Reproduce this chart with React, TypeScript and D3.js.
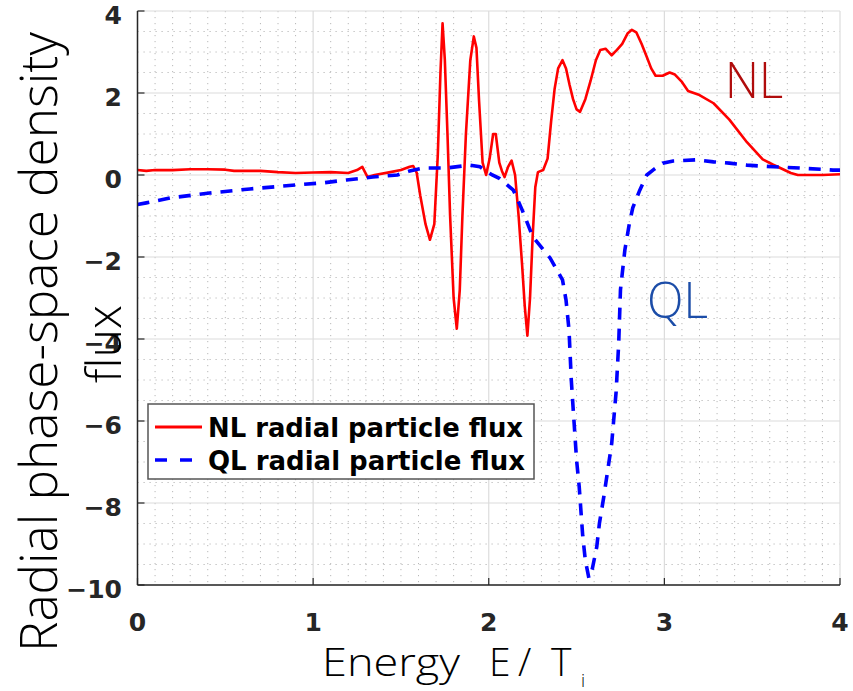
import React from "react";
import * as d3 from "d3";

const xTicks = [0, 1, 2, 3, 4];
const yTicks = [4, 2, 0, -2, -4, -6, -8, -10];

const nlX = [0, 0.05, 0.1, 0.2, 0.3, 0.4, 0.5, 0.55, 0.7, 0.8, 0.9, 1.0, 1.1, 1.2, 1.25, 1.28, 1.31, 1.35, 1.44, 1.5,
  1.55, 1.57, 1.59, 1.61, 1.64, 1.665, 1.69, 1.71, 1.725, 1.737, 1.75, 1.765, 1.78, 1.8, 1.818, 1.835, 1.85, 1.87, 1.895, 1.915,
  1.93, 1.945, 1.965, 1.985, 2.005, 2.025, 2.04, 2.06, 2.075, 2.09, 2.11, 2.13, 2.15, 2.17, 2.19, 2.205, 2.22, 2.235, 2.25, 2.265,
  2.28, 2.31, 2.335, 2.355, 2.375, 2.395, 2.42, 2.44, 2.46, 2.48, 2.5, 2.52, 2.55, 2.58, 2.61, 2.635, 2.665, 2.7, 2.73, 2.76,
  2.79, 2.815, 2.84, 2.87, 2.9, 2.925, 2.95, 2.99, 3.03, 3.06, 3.1, 3.135, 3.2, 3.28, 3.37, 3.47, 3.56, 3.62, 3.66, 3.72,
  3.76, 3.9, 4.0];
const nlY = [0.12, 0.1, 0.12, 0.12, 0.14, 0.14, 0.13, 0.1, 0.1, 0.07, 0.05, 0.06, 0.07, 0.05, 0.12, 0.2, -0.05, 0.0, 0.07, 0.12,
  0.2, 0.22, 0.05, -0.5, -1.2, -1.58, -1.2, 0.5, 2.5, 3.7, 2.8, 1.0, -1.0, -3.0, -3.75, -2.8, -1.0, 1.0, 2.8, 3.38,
  3.1, 1.8, 0.3, 0.0, 0.4, 1.0, 1.0, 0.3, 0.1, -0.05, 0.2, 0.35, 0.0, -1.0, -2.2, -3.2, -3.92, -3.0, -1.5, -0.3,
  0.07, 0.12, 0.4, 1.3, 2.1, 2.6, 2.8, 2.6, 2.2, 1.85, 1.6, 1.54, 1.85, 2.3, 2.8, 3.05, 3.08, 2.92, 3.05, 3.2,
  3.45, 3.54, 3.48, 3.2, 2.88, 2.6, 2.42, 2.42, 2.5, 2.45, 2.27, 2.05, 1.95, 1.75, 1.35, 0.8, 0.38, 0.25, 0.17, 0.05,
  0.0, 0.0, 0.02];

const qlX = [0, 0.05, 0.185, 0.41, 0.64, 0.91, 1.06, 1.19, 1.34, 1.48, 1.55, 1.63, 1.76, 1.89, 1.95, 2.02, 2.06, 2.14, 2.19, 2.25,
  2.35, 2.42, 2.44, 2.457, 2.47, 2.48, 2.5, 2.515, 2.535, 2.55, 2.57, 2.59, 2.615, 2.63, 2.655, 2.7, 2.725, 2.74, 2.75, 2.775,
  2.8, 2.82, 2.86, 2.9, 2.935, 2.99, 3.05, 3.185, 3.28, 3.37, 3.47, 3.62, 3.77, 3.96, 4.0];
const qlY = [-0.72, -0.68, -0.56, -0.44, -0.34, -0.24, -0.19, -0.12, -0.05, 0.0, 0.1, 0.17, 0.17, 0.24, 0.2, 0.0, -0.08, -0.37, -0.85, -1.5,
  -2.03, -2.56, -3.05, -3.78, -5.0, -5.66, -6.95, -7.6, -8.8, -9.4, -9.83, -9.6, -9.07, -8.5, -7.85, -6.55, -5.3, -4.1, -2.8, -1.83,
  -1.2, -0.8, -0.37, 0.0, 0.12, 0.29, 0.34, 0.37, 0.32, 0.29, 0.24, 0.2, 0.17, 0.12, 0.12];

const legendLabels = ["NL radial particle flux", "QL radial particle flux"];

const W = 853, H = 691;
const L = 137.5, R = 840, T = 11, B = 585;

export default function App() {
  const x = d3.scaleLinear().domain([0, 4]).range([L, R]);
  const y = d3.scaleLinear().domain([-10, 4]).range([B, T]);
  const line = d3.line<[number, number]>().x(d => x(d[0])).y(d => y(d[1]));
  const nl = nlX.map((v, i) => [v, nlY[i]] as [number, number]);
  const ql = qlX.map((v, i) => [v, qlY[i]] as [number, number]);
  const minorX = d3.range(0, 41).map(i => i / 10).filter(v => Math.abs(v - Math.round(v)) > 1e-6);
  const minorY = d3.range(-20, 9).map(i => i / 2).filter(v => Math.abs(v / 2 - Math.round(v / 2)) > 1e-6);
  const light = "'Open Sans', 'Noto Sans', sans-serif";
  const bold = "'DejaVu Sans', sans-serif";
  return (
    <svg width={W} height={H} style={{ position: "absolute", left: 0, top: 0, background: "#fff" }}>
      <rect x={0} y={0} width={W} height={H} fill="#fff" />
      {minorX.map(v => (
        <line key={"mx" + v} x1={x(v)} x2={x(v)} y1={T} y2={B} stroke="#b8b8b8" strokeWidth={1} strokeDasharray="1.2,4.8" />
      ))}
      {minorY.map(v => (
        <line key={"my" + v} x1={L} x2={R} y1={y(v)} y2={y(v)} stroke="#b8b8b8" strokeWidth={1} strokeDasharray="1.2,4.8" />
      ))}
      {xTicks.map(v => (
        <line key={"gx" + v} x1={x(v)} x2={x(v)} y1={T} y2={B} stroke="#dcdcdc" strokeWidth={1.2} />
      ))}
      {yTicks.map(v => (
        <line key={"gy" + v} x1={L} x2={R} y1={y(v)} y2={y(v)} stroke="#dcdcdc" strokeWidth={1.2} />
      ))}
      <path d={line(nl) || ""} fill="none" stroke="#ff0000" strokeWidth={2.6} strokeLinejoin="round" />
      <path d={line(ql) || ""} fill="none" stroke="#0000ff" strokeWidth={3.6} strokeDasharray="12,9" />
      <line x1={L} x2={L} y1={T} y2={B} stroke="#262626" strokeWidth={1.5} />
      <line x1={L} x2={R} y1={B} y2={B} stroke="#262626" strokeWidth={1.5} />
      {xTicks.map(v => (
        <line key={"tx" + v} x1={x(v)} x2={x(v)} y1={B} y2={B - 7} stroke="#262626" strokeWidth={1.2} />
      ))}
      {yTicks.map(v => (
        <line key={"ty" + v} x1={L} x2={L + 7} y1={y(v)} y2={y(v)} stroke="#262626" strokeWidth={1.2} />
      ))}
      {xTicks.map(v => (
        <text key={"lx" + v} x={x(v)} y={631} textAnchor="middle" fontFamily={bold} fontWeight="bold" fontSize={25} fill="#262626">
          {String(v)}
        </text>
      ))}
      {yTicks.map(v => (
        <text key={"ly" + v} x={122} y={y(v) + 13} textAnchor="end" fontFamily={bold} fontWeight="bold" fontSize={25} fill="#262626">
          {v < 0 ? "\u2212" + Math.abs(v) : String(v)}
        </text>
      ))}
      <g>
        <rect x={148} y={404} width={386} height={75} fill="#fff" stroke="#555" strokeWidth={1.5} />
        <line x1={155} x2={202} y1={427} y2={427} stroke="#ff0000" strokeWidth={3} />
        <line x1={155} x2={202} y1={460} y2={460} stroke="#0000ff" strokeWidth={3.6} strokeDasharray="12,13" />
        <text x={208} y={437} fontFamily={bold} fontWeight="bold" fontSize={26} fill="#000" textLength={315} lengthAdjust="spacingAndGlyphs">
          {legendLabels[0]}
        </text>
        <text x={208} y={470} fontFamily={bold} fontWeight="bold" fontSize={26} fill="#000" textLength={317} lengthAdjust="spacingAndGlyphs">
          {legendLabels[1]}
        </text>
      </g>
      <text x={725} y={98} fontFamily={light} fontWeight={300} fontSize={50} fill="#b00c0c" textLength={58} lengthAdjust="spacingAndGlyphs">NL</text>
      <text x={647} y={318} fontFamily={light} fontWeight={300} fontSize={49} fill="#1c4da8" textLength={61} lengthAdjust="spacingAndGlyphs">QL</text>
      <text transform="translate(57,342) rotate(-90)" textAnchor="middle" fontFamily={light} fontWeight={300} fontSize={52} fill="#000" textLength={620} lengthAdjust="spacingAndGlyphs">
        Radial phase-space density
      </text>
      <text transform="translate(121,344) rotate(-90)" textAnchor="middle" fontFamily={light} fontWeight={300} fontSize={48} fill="#000" textLength={78} lengthAdjust="spacingAndGlyphs">
        flux
      </text>
      <text x={322} y={676} fontFamily={light} fontWeight={300} fontSize={39} fill="#000" textLength={138} lengthAdjust="spacingAndGlyphs">Energy</text>
      <text x={489} y={676} fontFamily={light} fontWeight={300} fontSize={39} fill="#000">E</text>
      <text x={518} y={676} fontFamily={light} fontWeight={300} fontSize={39} fill="#000">/</text>
      <text x={551} y={676} fontFamily={light} fontWeight={300} fontSize={39} fill="#000">T</text>
      <text x={581} y={687} fontFamily={light} fontWeight={300} fontSize={18} fill="#000">i</text>
    </svg>
  );
}
